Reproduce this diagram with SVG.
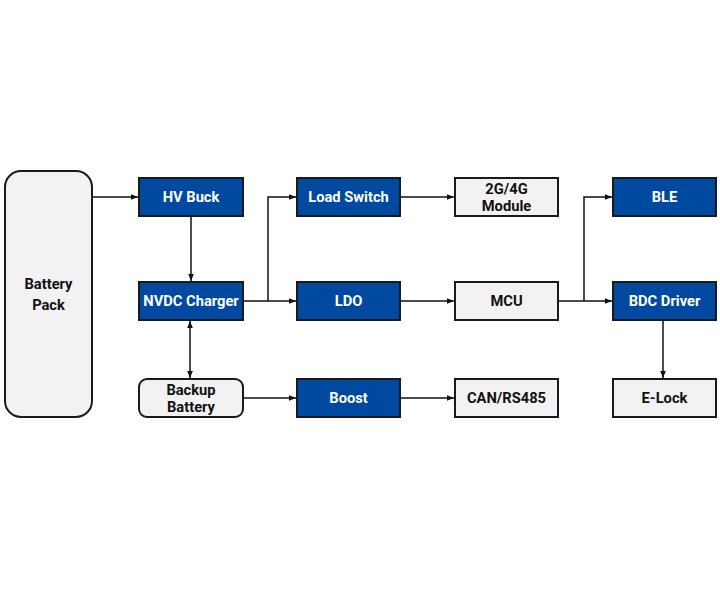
<svg xmlns="http://www.w3.org/2000/svg" width="720" height="600" viewBox="0 0 720 600">
<defs>
<marker id="ah" viewBox="0 0 10 10" refX="10" refY="5" markerWidth="7" markerHeight="7" orient="auto-start-reverse" markerUnits="userSpaceOnUse"><path d="M0,1 L10,5 L0,9 Z" fill="#111"/></marker>
<style>
.b{fill:#0049A0;stroke:#1a1a1a;stroke-width:2}
.g{fill:#F2F2F2;stroke:#1a1a1a;stroke-width:2}
.tw{fill:#fff;font-family:Roboto,"Liberation Sans",sans-serif;font-weight:bold;font-size:14.7px;text-anchor:middle}
.tk{fill:#111;font-family:Roboto,"Liberation Sans",sans-serif;font-weight:bold;font-size:14.7px;text-anchor:middle}
.c{fill:none;stroke:#111;stroke-width:1.5}
</style>
</defs>
<rect width="720" height="600" fill="#fff"/>
<g id="battery-pack"><rect class="g" x="5" y="171" width="87" height="246" rx="16"/><text class="tk" x="48.5" y="289">Battery</text><text class="tk" x="48.5" y="310">Pack</text></g>
<g id="hv-buck"><rect class="b" x="139" y="178" width="104" height="38"/><text class="tw" x="191" y="202">HV Buck</text></g>
<g id="nvdc-charger"><rect class="b" x="139" y="282" width="104" height="38"/><text class="tw" x="191" y="306">NVDC Charger</text></g>
<g id="backup-battery"><rect class="g" x="139" y="379" width="104" height="38" rx="8"/><text class="tk" x="191" y="395">Backup</text><text class="tk" x="191" y="412">Battery</text></g>
<g id="load-switch"><rect class="b" x="297" y="178" width="103" height="38"/><text class="tw" x="348.5" y="202">Load Switch</text></g>
<g id="ldo"><rect class="b" x="297" y="282" width="103" height="38"/><text class="tw" x="348.5" y="306">LDO</text></g>
<g id="boost"><rect class="b" x="297" y="379" width="103" height="38"/><text class="tw" x="348.5" y="403">Boost</text></g>
<g id="module"><rect class="g" x="455" y="178" width="103" height="38"/><text class="tk" x="506.5" y="194">2G/4G</text><text class="tk" x="506.5" y="211">Module</text></g>
<g id="mcu"><rect class="g" x="455" y="282" width="103" height="38"/><text class="tk" x="506.5" y="306">MCU</text></g>
<g id="can"><rect class="g" x="455" y="379" width="103" height="38"/><text class="tk" x="506.5" y="403">CAN/RS485</text></g>
<g id="ble"><rect class="b" x="613" y="178" width="103" height="38"/><text class="tw" x="664.5" y="202">BLE</text></g>
<g id="bdc-driver"><rect class="b" x="613" y="282" width="103" height="38"/><text class="tw" x="664.5" y="306">BDC Driver</text></g>
<g id="e-lock"><rect class="g" x="613" y="379" width="103" height="38"/><text class="tk" x="664.5" y="403">E-Lock</text></g>
<g id="connectors">
<path class="c" d="M92,197 H138" marker-end="url(#ah)"/>
<path class="c" d="M191,216 V281" marker-end="url(#ah)"/>
<path class="c" d="M190,321 V378" marker-start="url(#ah)" marker-end="url(#ah)"/>
<path class="c" d="M243,301 H296" marker-end="url(#ah)"/>
<path class="c" d="M268,301 V197 H296" marker-end="url(#ah)"/>
<path class="c" d="M243,398 H296" marker-end="url(#ah)"/>
<path class="c" d="M400,197 H454" marker-end="url(#ah)"/>
<path class="c" d="M400,301 H454" marker-end="url(#ah)"/>
<path class="c" d="M400,398 H454" marker-end="url(#ah)"/>
<path class="c" d="M558,301 H612" marker-end="url(#ah)"/>
<path class="c" d="M584,301 V197 H612" marker-end="url(#ah)"/>
<path class="c" d="M663,320 V378" marker-end="url(#ah)"/>
</g>
</svg>
